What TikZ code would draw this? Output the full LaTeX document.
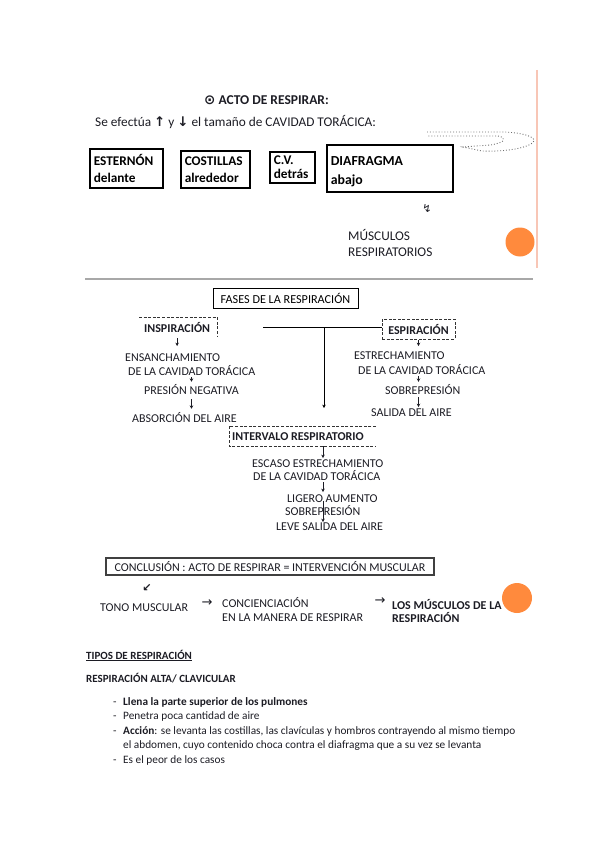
\documentclass[tikz,border=0pt]{standalone}
\usepackage{fontspec}
\setmainfont{Carlito}
\newfontfamily\dvsans{DejaVu Sans}
\usetikzlibrary{positioning,arrows.meta}
\definecolor{ink}{HTML}{1C1C24}
\definecolor{peach}{HTML}{FF8A3D}
\definecolor{blush}{HTML}{F8C6B6}
\definecolor{rulegray}{HTML}{A8A8A8}
\definecolor{dotgray}{HTML}{6E6E6E}

\begin{document}
\begin{tikzpicture}[
  x=1pt, y=-1pt,
  >={Stealth[length=3.4pt,width=3.6pt]},
  txt/.style={anchor=base west, inner sep=0pt, text=ink,
              font=\fontsize{12}{14}\selectfont},
  bold/.style={txt, font=\fontsize{12}{14}\selectfont\bfseries},
  small/.style={txt, font=\fontsize{11.3}{13}\selectfont},
  part/.style={draw=black, line width=1.6pt, anchor=north west,
               align=left, inner xsep=4pt, inner ysep=0pt,
               font=\fontsize{13.3}{17}\selectfont\bfseries},
  frame/.style={draw=black, line width=0.9pt, inner sep=0pt,
                font=\fontsize{12.2}{14}\selectfont},
  dashframe/.style={draw=black!80, line width=0.8pt,
                    dash pattern=on 3pt off 1.6pt},
  dn/.style={->, line width=0.8pt, draw=ink,
             shorten <=6pt, shorten >=7pt},
  sym/.style={inner sep=0pt, text=ink, font=\dvsans\fontsize{13}{15}\selectfont},
  dot/.style={fill=peach, draw=none},
]
\useasboundingbox (0,0) rectangle (600,848);

\draw[blush, line width=1.5pt] (537,70) -- (537,268);
\draw[rulegray, line width=2pt] (85,279) -- (533,279);
\fill[dot] (520,242) circle (14.5);
\fill[dot] (517,598) circle (15);

\node[bold, font=\fontsize{13.5}{16}\selectfont\bfseries] (title) at (204,105)
  {{\dvsans ⊙} ACTO DE RESPIRAR:};
\node[txt, font=\fontsize{13.3}{15}\selectfont] (intro) at (95,127)
  {Se efectúa {\dvsans\bfseries ↑} y {\dvsans\bfseries ↓} el tamaño de CAVIDAD TORÁCICA:};

\node[part, text width=65pt, minimum height=39pt] (esternon) at (89,148)
  {ESTERNÓN\\delante};
\node[part, text width=61pt, minimum height=37pt] (costillas) at (180,150)
  {COSTILLAS\\alrededor};
\node[part, text width=37pt, minimum height=31pt,
      font=\fontsize{13.3}{13.5}\selectfont\bfseries] (cv) at (269,151)
  {C.V.\\detrás};
\node[part, text width=118pt, minimum height=47pt,
      font=\fontsize{13.8}{19}\selectfont\bfseries] (diafragma) at (326,144)
  {\rule{0pt}{16.5pt}DIAFRAGMA\\abajo};

\draw[dotgray, dotted, line width=0.9pt]
  (427,132) -- (505,132) .. controls (524,133) and (535,137) .. (534,141)
  .. controls (530,148) and (505,152) .. (482,151) -- (463,147)
  -- (490,145) .. controls (505,143) and (508,138) .. (498,136) -- (427,136);

\node[sym, font=\dvsans\fontsize{11}{13}\selectfont] (zig) at (427,208) {↯};
\node[txt, font=\fontsize{13.3}{15}\selectfont] (musc1) at (348,240) {MÚSCULOS};
\node[txt, font=\fontsize{13.3}{15}\selectfont] (musc2) at (348,256) {RESPIRATORIOS};

\node[frame, minimum width=145pt, minimum height=20pt] (fases) at (285.5,298)
  {FASES DE LA RESPIRACIÓN};

\node[bold] (insp) at (144,332) {INSPIRACIÓN};
\draw[dashframe] (139,317) -| (217,337);
\node[draw=black!80, line width=0.8pt, dash pattern=on 3pt off 1.6pt,
      minimum width=73pt, minimum height=20pt, inner sep=0pt,
      font=\fontsize{12}{14}\selectfont\bfseries, text=ink] (esp) at (418.5,329)
  {ESPIRACIÓN};

\coordinate (branch) at (263,327);
\coordinate (split) at (324,327);
\coordinate (drop) at (324,408);
\draw[line width=0.9pt] (branch) -- (branch -| esp.west);
\draw[->, line width=0.9pt] (split) -- (drop);

\node[txt] (ensan) at (125,361) {ENSANCHAMIENTO};
\node[txt] (cavA) at (128,375) {DE LA CAVIDAD TORÁCICA};
\node[txt] (negativa) at (144,394) {PRESIÓN NEGATIVA};
\node[txt] (absorcion) at (132,422) {ABSORCIÓN DEL AIRE};
\draw[dn] (insp.south) -- (insp.south |- ensan.north);
\draw[dn, shorten <=2pt, shorten >=2pt] (cavA.south -| negativa.north) -- (negativa.north);
\draw[dn, shorten <=5pt, shorten >=3pt] (negativa.south) -- (negativa.south |- absorcion.north);

\node[txt] (estre) at (354,359) {ESTRECHAMIENTO};
\node[txt] (cavB) at (358,374) {DE LA CAVIDAD TORÁCICA};
\node[txt] (sobreB) at (385,394) {SOBREPRESIÓN};
\node[txt] (salida) at (371,416) {SALIDA DEL AIRE};
\draw[dn, shorten <=1pt, shorten >=5pt] (esp.south) -- (esp.south |- estre.north);
\draw[dn, shorten <=2pt, shorten >=2pt] (cavB.south -| esp.south) -- (esp.south |- sobreB.north);
\draw[dn, shorten <=3pt, shorten >=1pt] (sobreB.south -| esp.south) -- (esp.south |- salida.north);

\node[bold] (intervalo) at (232,440) {INTERVALO RESPIRATORIO};
\draw[dashframe] (376,426) -- (229,426) -- (229,446) -- (376,446);
\coordinate (ivfoot) at (323,446);

\node[txt] (escaso) at (252,467) {ESCASO ESTRECHAMIENTO};
\node[txt] (cavC) at (253,480) {DE LA CAVIDAD TORÁCICA};
\node[txt] (ligero) at (287,502) {LIGERO AUMENTO};
\node[txt] (sobreC) at (285,515) {SOBREPRESIÓN};
\node[txt] (leve) at (276,530) {LEVE SALIDA DEL AIRE};
\draw[dn, shorten <=0pt, shorten >=1pt] (ivfoot) -- (ivfoot |- escaso.north);
\draw[dn, shorten <=2pt, shorten >=2pt] (ivfoot |- cavC.south) -- (ivfoot |- ligero.north);
\draw[dn, shorten <=-4pt, shorten >=0pt] (ivfoot |- sobreC.north) -- (ivfoot |- leve.north);

\node[draw=black!75, line width=1.2pt, minimum width=328pt, minimum height=17pt,
      inner sep=0pt, text=ink, font=\fontsize{12}{14}\selectfont] (conclusion) at (270,566.5)
  {CONCLUSIÓN : ACTO DE RESPIRAR = INTERVENCIÓN MUSCULAR};

\node[sym, font=\dvsans\bfseries\fontsize{11}{13}\selectfont] (diag) at (147,588) {↙};
\node[txt] (tono) at (100,611) {TONO MUSCULAR};
\node[sym] (toA) at (207,603) {→};
\node[txt] (conc1) at (222,607) {CONCIENCIACIÓN};
\node[txt] (conc2) at (222,621) {EN LA MANERA DE RESPIRAR};
\node[sym] (toB) at (380,601) {→};
\node[bold] (losmus) at (392,609) {LOS MÚSCULOS DE LA};
\node[bold] (resp) at (392,622) {RESPIRACIÓN};

\node[bold, font=\fontsize{11}{13}\selectfont\bfseries] (tipos) at (86,659)
  {\underline{TIPOS DE RESPIRACIÓN}};
\node[bold, font=\fontsize{11}{13}\selectfont\bfseries] (alta) at (86,682)
  {RESPIRACIÓN ALTA/ CLAVICULAR};
\foreach \y/\n in {705/d1, 719.5/d2, 734/d3, 763/d4}
  \node[small] (\n) at (113,\y) {-};
\node[small, font=\fontsize{11.3}{13}\selectfont\bfseries] (item1) at (123,705)
  {Llena la parte superior de los pulmones};
\node[small] (item2) at (123,719.5) {Penetra poca cantidad de aire};
\node[small] (item3) at (123,734)
  {\textbf{Acción}: se levanta las costillas, las clavículas y hombros contrayendo al mismo tiempo};
\node[small] (item3b) at (123,748.5)
  {el abdomen, cuyo contenido choca contra el diafragma que a su vez se levanta};
\node[small] (item4) at (123,763) {Es el peor de los casos};
\end{tikzpicture}
\end{document}
